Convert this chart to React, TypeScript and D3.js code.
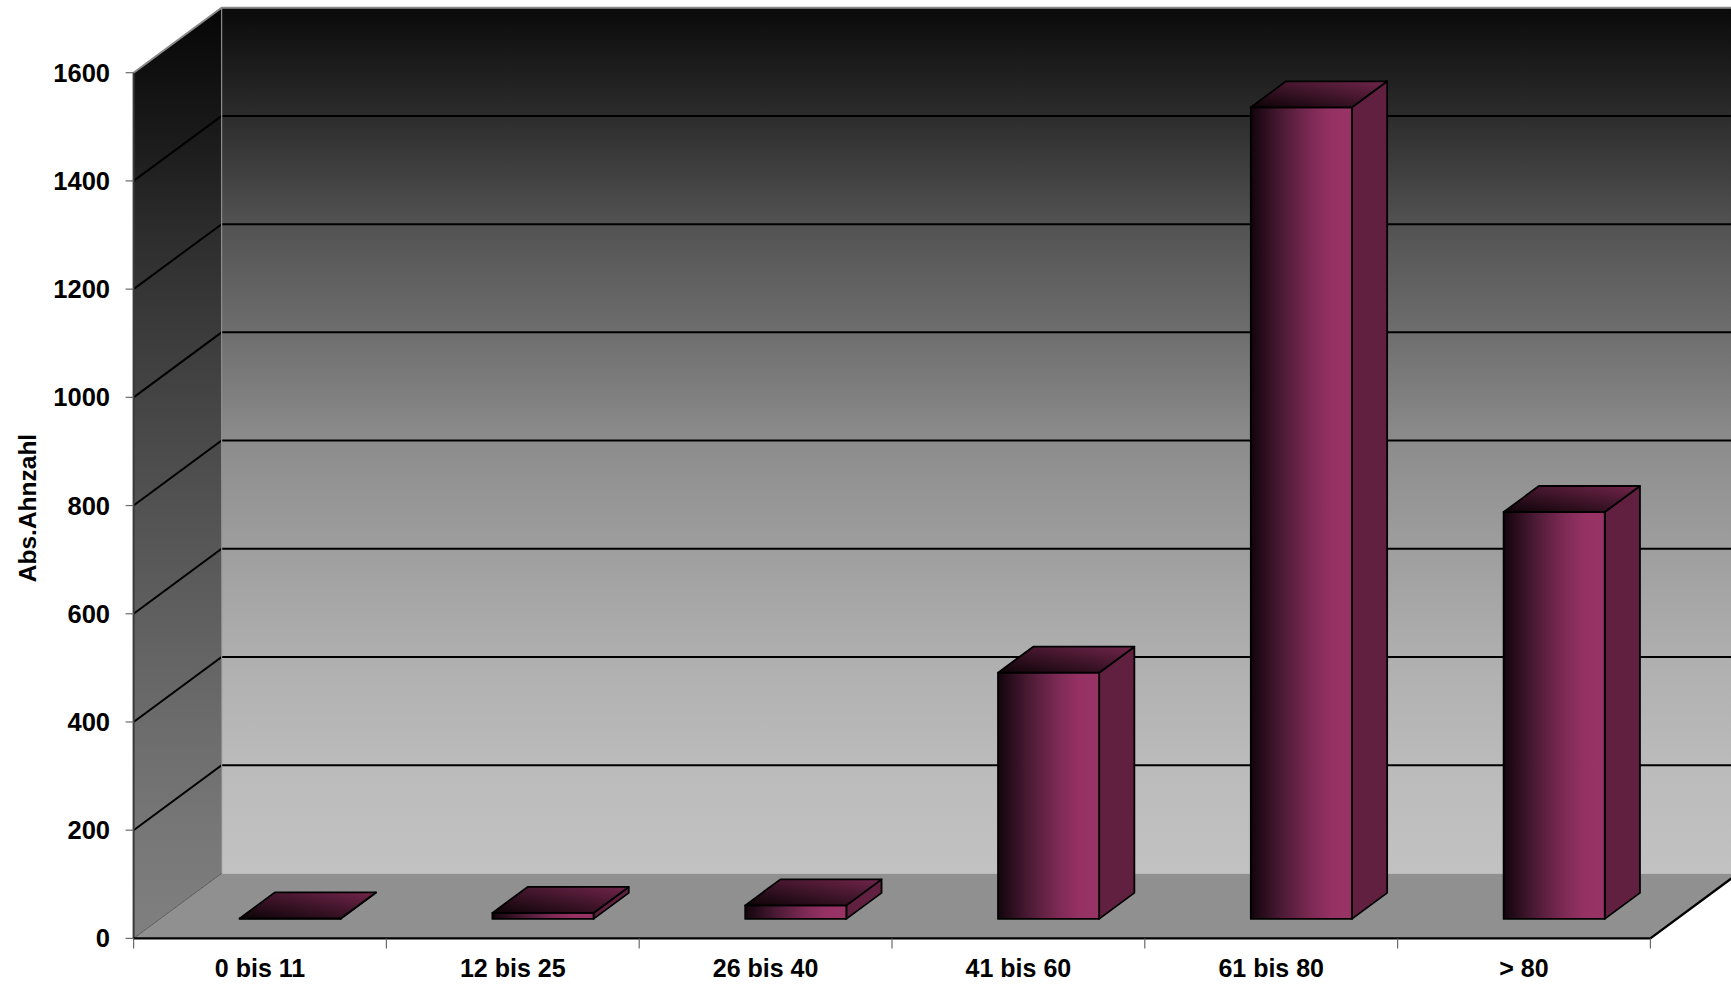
import React from "react";
import * as d3 from "d3";

// Age groups and absolute counts
const categories = ["0 bis 11", "12 bis 25", "26 bis 40", "41 bis 60", "61 bis 80", "> 80"];
const counts = [1, 11, 25, 455, 1500, 752];
const yTicks = [0, 200, 400, 600, 800, 1000, 1200, 1400, 1600];
const yTitle = "Abs.Ahnzahl";

const W = 1731;
const H = 984;
// oblique depth offset of the 3D box
const DX = 88;
const DY = 65;
const FONT = "'Liberation Sans', Arial, Helvetica, sans-serif";

export default function App() {
  const x = d3.scaleBand<string>().domain(categories).range([133.6, 1650.4]).padding(0);
  const y = d3.scaleLinear().domain([0, 1600]).range([938.4, 72.7]);
  const bw = x.bandwidth();
  const x0 = x.range()[0];
  const x1 = x.range()[1];
  const y0 = y(0);
  const yTop = y(1600);

  // project (px, value, depth) into screen coords
  const P = (px: number, v: number, d: number): [number, number] => [px + d * DX, y(v) - d * DY];
  const poly = (pts: [number, number][]) => pts.map((p) => p.join(",")).join(" ");

  const backShades = [10, 44, 82, 110, 140, 158, 175, 187, 194];
  const sideShades = [6, 24, 46, 63, 78, 92, 106, 118, 128];
  const gray = (g: number) => `rgb(${g},${g},${g})`;

  const d0 = 0.3;
  const d1 = 0.7;

  return (
    <svg
      width={W}
      height={H}
      style={{ position: "absolute", left: 0, top: 0, background: "#fff" }}
      fontFamily={FONT}
    >
      <defs>
        <linearGradient id="backWall" gradientUnits="userSpaceOnUse" x1={0} y1={y(1600) - DY} x2={0} y2={y0 - DY}>
          {backShades.map((g, i) => (
            <stop key={i} offset={i / (backShades.length - 1)} stopColor={gray(g)} />
          ))}
        </linearGradient>
        <linearGradient id="sideWall" gradientUnits="userSpaceOnUse" x1={0} y1={yTop - DY} x2={0} y2={y0}>
          {sideShades.map((g, i) => (
            <stop key={i} offset={i / (sideShades.length - 1)} stopColor={gray(g)} />
          ))}
        </linearGradient>
        <linearGradient id="barFront" x1="0" y1="0" x2="1" y2="0">
          <stop offset="0" stopColor="#12040c" />
          <stop offset="0.3" stopColor="#4a1a34" />
          <stop offset="0.6" stopColor="#7e2a55" />
          <stop offset="0.8" stopColor="#953263" />
          <stop offset="1" stopColor="#993366" />
        </linearGradient>
        <linearGradient id="barTop" x1="0" y1="1" x2="1" y2="0">
          <stop offset="0" stopColor="#0c0306" />
          <stop offset="0.5" stopColor="#3e1429" />
          <stop offset="1" stopColor="#72254b" />
        </linearGradient>
      </defs>

      {/* back wall */}
      <rect x={x0 + DX} y={yTop - DY} width={x1 - x0 + 2} height={y0 - yTop} fill="url(#backWall)" />
      {/* left side wall */}
      <polygon points={poly([P(x0, 1600, 0), P(x0, 1600, 1), P(x0, 0, 1), P(x0, 0, 0)])} fill="url(#sideWall)" />
      {/* floor */}
      <polygon points={poly([P(x0, 0, 0), P(x1, 0, 0), P(x1, 0, 1), P(x0, 0, 1)])} fill="#909090" />

      {/* gridlines on back and side walls */}
      {yTicks
        .filter((t) => t > 0 && t < 1600)
        .map((t) => {
          const a = P(x0, t, 0);
          const b = P(x0, t, 1);
          return (
            <g key={t}>
              <polyline points={poly([a, b, [W + 5, b[1]]])} fill="none" stroke="#000" strokeWidth={2} />
            </g>
          );
        })}

      {/* box edges */}
      <polyline points={poly([P(x0, 1600, 0), P(x0, 1600, 1), [W + 5, yTop - DY]])} fill="none" stroke="#8a8a8a" strokeWidth={2} />
      <line x1={x0 + DX} y1={yTop - DY} x2={x0 + DX} y2={y0 - DY} stroke="#8c8c8c" strokeWidth={1.2} />
      <line x1={x0} y1={y0} x2={x0 + DX} y2={y0 - DY} stroke="#5a5a5a" strokeWidth={1} />
      <line x1={x0} y1={yTop} x2={x0} y2={y0} stroke="#3a3a3a" strokeWidth={2} />
      <polyline points={poly([P(x0, 0, 0), P(x1, 0, 0), P(x1, 0, 1)])} fill="none" stroke="#000" strokeWidth={2.4} />

      {/* y ticks and labels */}
      {yTicks.map((t) => (
        <g key={t}>
          <line x1={x0 - 8} x2={x0} y1={y(t)} y2={y(t)} stroke="#6a6a6a" strokeWidth={1.2} />
          <text x={110} y={y(t) + 9} textAnchor="end" fontSize={25.5} fontWeight="bold" fill="#000">
            {t}
          </text>
        </g>
      ))}

      {/* x ticks */}
      {d3.range(categories.length + 1).map((i) => {
        const px = x0 + i * bw;
        return <line key={i} x1={px} x2={px} y1={y0} y2={y0 + 10} stroke="#6a6a6a" strokeWidth={1.2} />;
      })}

      {/* bars */}
      {categories.map((c, i) => {
        const v = counts[i];
        const bx = (x(c) as number) + 0.315 * bw;
        const bx2 = bx + 0.4 * bw;
        const front = [P(bx, v, d0), P(bx2, v, d0), P(bx2, 0, d0), P(bx, 0, d0)] as [number, number][];
        const top = [P(bx, v, d0), P(bx2, v, d0), P(bx2, v, d1), P(bx, v, d1)] as [number, number][];
        const side = [P(bx2, 0, d0), P(bx2, v, d0), P(bx2, v, d1), P(bx2, 0, d1)] as [number, number][];
        return (
          <g key={c} stroke="#000" strokeWidth={1.8} strokeLinejoin="round">
            <polygon points={poly(side)} fill="#612040" />
            <polygon points={poly(front)} fill="url(#barFront)" />
            <polygon points={poly(top)} fill="url(#barTop)" />
          </g>
        );
      })}

      {/* category labels */}
      {categories.map((c) => (
        <text
          key={c}
          x={(x(c) as number) + bw / 2}
          y={977}
          textAnchor="middle"
          fontSize={25}
          fontWeight="bold"
          fill="#000"
        >
          {c}
        </text>
      ))}

      {/* y axis title */}
      <text
        transform="translate(36,508) rotate(-90)"
        textAnchor="middle"
        fontSize={24.5}
        fontWeight="bold"
        fill="#000"
      >
        {yTitle}
      </text>
    </svg>
  );
}
